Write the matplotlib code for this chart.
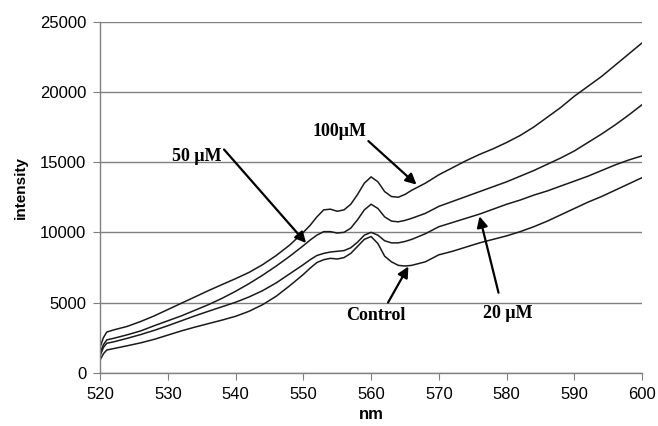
import matplotlib
matplotlib.use("Agg")
import matplotlib.pyplot as plt

# wavelength grid (nm)
wavelength = [520, 520.5, 521, 522, 524, 526, 528, 530, 532, 534, 536, 538, 540,
              542, 544, 546, 548, 550, 551, 552, 553, 554, 555, 556, 557, 558,
              559, 560, 561, 562, 563, 564, 565, 566, 568, 570, 572, 574, 576,
              578, 580, 582, 584, 586, 588, 590, 592, 594, 596, 598, 600]

uM100 = [1800, 2500, 2900, 3050, 3300, 3650, 4050, 4500, 4950, 5400, 5850, 6280, 6700,
         7150, 7700, 8350, 9100, 10000, 10500, 11100, 11600, 11650, 11500, 11600, 12000, 12700,
         13500, 13950, 13600, 12900, 12550, 12500, 12700, 13000, 13500, 14100, 14600, 15100, 15550,
         15950, 16400, 16900, 17500, 18200, 18900, 19700, 20400, 21100, 21900, 22700, 23500]

uM50 = [1400, 2000, 2340, 2450, 2700, 2980, 3350, 3700, 4050, 4450, 4850, 5300, 5800,
        6350, 6950, 7600, 8300, 9050, 9450, 9800, 10050, 10050, 9950, 10000, 10300, 10900,
        11600, 12000, 11700, 11100, 10800, 10750, 10850, 11000, 11350, 11850, 12200, 12550, 12900,
        13250, 13600, 14000, 14400, 14850, 15300, 15800, 16400, 17000, 17650, 18350, 19100]

uM20 = [1200, 1800, 2100, 2200, 2450, 2720, 3020, 3350, 3700, 4050, 4380, 4700, 5020,
        5400, 5850, 6400, 7050, 7700, 8050, 8350, 8500, 8600, 8650, 8700, 8900, 9300,
        9800, 10000, 9800, 9400, 9250, 9250, 9350, 9500, 9900, 10400, 10700, 11000, 11300,
        11650, 12000, 12300, 12650, 12950, 13300, 13650, 14000, 14400, 14800, 15150, 15450]

control = [900, 1350, 1620, 1720, 1920, 2130, 2380, 2680, 2980, 3250, 3500, 3750, 4020,
           4380, 4850, 5450, 6200, 7000, 7450, 7850, 8050, 8150, 8100, 8200, 8500, 9000,
           9500, 9700, 9200, 8300, 7900, 7650, 7600, 7650, 7900, 8400, 8650, 8950, 9250,
           9500, 9750, 10050, 10400, 10800, 11250, 11700, 12150, 12550, 13000, 13450, 13900]

x_ticks = [520, 530, 540, 550, 560, 570, 580, 590, 600]
y_ticks = [0, 5000, 10000, 15000, 20000, 25000]

fig = plt.figure(figsize=(6.58, 4.26), dpi=100)
ax = fig.add_axes([0.152, 0.125, 0.824, 0.824])

for s in (uM100, uM50, uM20, control):
    ax.plot(wavelength, s, color="#1a1a1a", lw=1.1)

ax.set_xlim(520, 600)
ax.set_ylim(0, 25000)
ax.set_xticks(x_ticks)
ax.set_yticks(y_ticks)
ax.yaxis.grid(True, color="#808080", lw=1.0)
ax.set_axisbelow(True)
for sp in ("top", "right"):
    ax.spines[sp].set_visible(False)
for sp in ("left", "bottom"):
    ax.spines[sp].set_color("#808080")
    ax.spines[sp].set_linewidth(1.0)
ax.tick_params(axis="both", direction="out", length=5, color="#808080",
               labelsize=12, pad=5)
for lab in ax.get_xticklabels() + ax.get_yticklabels():
    lab.set_family("Liberation Sans")
ax.set_xlabel("nm", fontfamily="Liberation Sans", fontweight="bold", fontsize=12)
ax.set_ylabel("intensity", fontfamily="Liberation Sans", fontweight="bold", fontsize=11)
ax.xaxis.set_label_coords(0.5, -0.097)
ax.yaxis.set_label_coords(-0.133, 0.529)

tfont = dict(family="Liberation Serif", fontsize=13, fontweight="bold",
             ha="center", va="center")
aprops = dict(arrowstyle="-|>", color="black", lw=1.6, mutation_scale=16,
              shrinkA=0, shrinkB=0)

ax.text(534.2, 15400, "50 \u03bcM", **tfont)
ax.annotate("", xy=(550.4, 9240), xytext=(538.3, 15900), arrowprops=aprops)

ax.text(555.3, 17200, "100\u03bcM", **tfont)
ax.annotate("", xy=(566.7, 13400), xytext=(559.6, 16500), arrowprops=aprops)

ax.text(560.7, 4100, "Control", **tfont)
ax.annotate("", xy=(565.5, 7570), xytext=(562.5, 5000), arrowprops=aprops)

ax.text(580.2, 4200, "20 \u03bcM", **tfont)
ax.annotate("", xy=(576.0, 11140), xytext=(578.8, 5700), arrowprops=aprops)

fig.savefig("out.png", dpi=100)
